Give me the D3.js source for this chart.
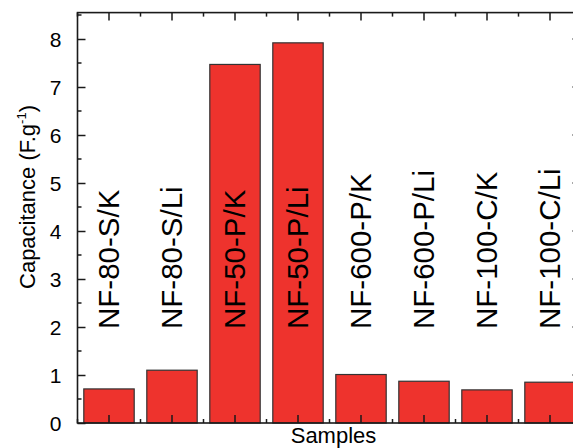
<!DOCTYPE html>
<html>
<head>
<meta charset="utf-8">
<script src="https://cdn.jsdelivr.net/npm/d3@7"></script>
<style>
  html, body { margin: 0; padding: 0; background: #fff; overflow: hidden; }
  svg { display: block; }
  text { font-family: "Liberation Sans", Arial, sans-serif; fill: #000; }
</style>
</head>
<body>
<svg id="chart" width="573" height="448"></svg>
<script>
// Specific capacitance of each sample
const samples = ["NF-80-S/K", "NF-80-S/Li", "NF-50-P/K", "NF-50-P/Li",
                 "NF-600-P/K", "NF-600-P/Li", "NF-100-C/K", "NF-100-C/Li"];
const capacitance = [0.71, 1.10, 7.47, 7.92, 1.01, 0.87, 0.69, 0.85];
const yTicks = [0, 1, 2, 3, 4, 5, 6, 7, 8];
const yMinorTicks = [0.5, 1.5, 2.5, 3.5, 4.5, 5.5, 6.5, 7.5, 8.5];

const svg = d3.select("#chart");
const plotLeft = 77.5, plotRight = 581.5, plotTop = 12.6, plotBottom = 423;

const x = d3.scaleBand().domain(samples).range([plotLeft, plotRight]).paddingInner(0.2).paddingOuter(0.1);
const xStep = x.step();
const xCenter = d => x(d) + x.bandwidth() / 2;
const y = d3.scaleLinear().domain([0, 8.55]).range([plotBottom, plotTop]);

const axisColor = "#1a1a1a";

// Bars
svg.append("g").selectAll("rect")
  .data(samples)
  .join("rect")
  .attr("x", d => x(d))
  .attr("width", x.bandwidth())
  .attr("y", (d, i) => y(capacitance[i]))
  .attr("height", (d, i) => y(0) - y(capacitance[i]))
  .attr("fill", "#ee332d")
  .attr("stroke", "#333")
  .attr("stroke-width", 1.2);

// Sample names written vertically above the bars
svg.append("g").selectAll("text")
  .data(samples)
  .join("text")
  .attr("transform", d => `translate(${xCenter(d) + 10},329) rotate(-90)`)
  .attr("font-size", 29.5)
  .text(d => d);

// Left axis with inward ticks
const yAxis = d3.axisLeft(y).tickValues(yTicks).tickSize(-8).tickPadding(16).tickFormat(d3.format("d"));
const gy = svg.append("g").attr("transform", `translate(${plotLeft},0)`).call(yAxis);
gy.selectAll("text").attr("font-size", 21).attr("dy", "0.36em");
gy.selectAll("line").attr("stroke", axisColor).attr("stroke-width", 1.5);
gy.select(".domain").remove();
svg.append("g").selectAll("line").data(yMinorTicks).join("line")
  .attr("x1", plotLeft).attr("x2", plotLeft + 4)
  .attr("y1", d => y(d)).attr("y2", d => y(d))
  .attr("stroke", axisColor).attr("stroke-width", 1.5);

// Right axis ticks (pointing inward)
svg.append("g").selectAll("line").data(yTicks.concat(yMinorTicks)).join("line")
  .attr("x1", plotRight).attr("x2", (d, i) => plotRight - (i < yTicks.length ? 9 : 5))
  .attr("y1", d => y(d)).attr("y2", d => y(d))
  .attr("stroke", axisColor).attr("stroke-width", 1.5);

// Bottom and top axes: major ticks at bar centres, minor at boundaries
const minorX = samples.map(d => xCenter(d) - xStep / 2);
[[plotBottom, -1], [plotTop, 1]].forEach(([yy, dir]) => {
  const g = svg.append("g");
  g.selectAll("line.major").data(samples).join("line").attr("class", "major")
    .attr("x1", d => xCenter(d)).attr("x2", d => xCenter(d))
    .attr("y1", yy).attr("y2", yy + dir * 8)
    .attr("stroke", axisColor).attr("stroke-width", 1.5);
  g.selectAll("line.minor").data(minorX).join("line").attr("class", "minor")
    .attr("x1", d => d).attr("x2", d => d)
    .attr("y1", yy).attr("y2", yy + dir * 4)
    .attr("stroke", axisColor).attr("stroke-width", 1.5);
});

// Frame
svg.append("rect")
  .attr("x", plotLeft).attr("y", plotTop)
  .attr("width", plotRight - plotLeft).attr("height", plotBottom - plotTop)
  .attr("fill", "none").attr("stroke", axisColor).attr("stroke-width", 1.6);

// Axis titles
svg.append("text")
  .attr("x", (plotLeft + plotRight) / 2 + 4).attr("y", 443)
  .attr("text-anchor", "middle").attr("font-size", 22)
  .text("Samples");

const yTitle = svg.append("text")
  .attr("transform", "translate(35,197) rotate(-90)")
  .attr("text-anchor", "middle").attr("font-size", 22);
yTitle.append("tspan").text("Capacitance (F.g");
yTitle.append("tspan").attr("font-size", 13).attr("dy", -9).text("-1");
yTitle.append("tspan").attr("dy", 9).text(")");
</script>
</body>
</html>
